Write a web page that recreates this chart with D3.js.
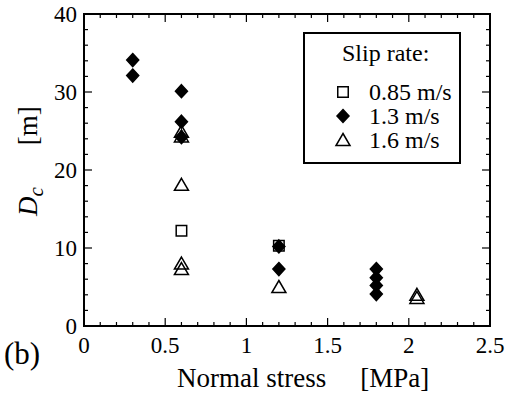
<!DOCTYPE html>
<html>
<head>
<meta charset="utf-8">
<script src="https://cdn.jsdelivr.net/npm/d3@7"></script>
<style>
  body { margin: 0; background: #fff; }
  text { font-family: "Liberation Serif", "Times New Roman", serif; fill: #000; }
</style>
</head>
<body>
<svg width="506" height="397"></svg>
<script>
// data: normal stress [MPa] vs Dc [m]
var rate085 = [[0.6, 12.2], [1.2, 10.3]];
var rate13 = [[0.3, 34.1], [0.3, 32.1], [0.6, 30.1], [0.6, 26.2], [0.6, 24.2],
              [1.2, 10.2], [1.2, 7.3], [1.8, 7.3], [1.8, 6.2], [1.8, 5.2], [1.8, 4.1]];
var rate16 = [[0.6, 24.9], [0.6, 24.3], [0.6, 18.1], [0.6, 8.0], [0.6, 7.3],
              [1.2, 5.0], [2.05, 4.0], [2.05, 3.6]];
var xTicks = [0, 0.5, 1, 1.5, 2, 2.5];
var yTicks = [0, 10, 20, 30, 40];
var legendLabels = ["0.85 m/s", "1.3 m/s", "1.6 m/s"];

var svg = d3.select("svg");
var pLeft = 84, pRight = 490, pTop = 14, pBottom = 326;

var x = d3.scaleLinear().domain([0, 2.5]).range([pLeft, pRight]);
var y = d3.scaleLinear().domain([0, 40]).range([pBottom, pTop]);

// ticks, inward on all four sides
var ticksG = svg.append("g").attr("stroke", "#000").attr("stroke-width", 1.2);
d3.range(0, 2.5001, 0.1).forEach(function(v) {
    var major = Math.abs(v / 0.5 - Math.round(v / 0.5)) < 1e-6;
    var len = major ? 8 : 4;
    ticksG.append("line").attr("x1", x(v)).attr("x2", x(v)).attr("y1", pBottom).attr("y2", pBottom - len);
    ticksG.append("line").attr("x1", x(v)).attr("x2", x(v)).attr("y1", pTop).attr("y2", pTop + len);
});
d3.range(0, 40.001, 2).forEach(function(v) {
    var major = v % 10 === 0;
    var len = major ? 8 : 4;
    ticksG.append("line").attr("x1", pLeft).attr("x2", pLeft + len).attr("y1", y(v)).attr("y2", y(v));
    ticksG.append("line").attr("x1", pRight).attr("x2", pRight - len).attr("y1", y(v)).attr("y2", y(v));
});

svg.append("rect")
    .attr("x", pLeft).attr("y", pTop)
    .attr("width", pRight - pLeft).attr("height", pBottom - pTop)
    .attr("fill", "none").attr("stroke", "#000").attr("stroke-width", 2);

svg.selectAll("text.xt").data(xTicks).enter().append("text")
    .attr("class", "xt")
    .attr("x", d => x(d)).attr("y", 353)
    .attr("text-anchor", "middle").attr("font-size", 23)
    .text(d => d);
svg.selectAll("text.yt").data(yTicks).enter().append("text")
    .attr("class", "yt")
    .attr("x", 77).attr("y", d => y(d) + 8)
    .attr("text-anchor", "end").attr("font-size", 23)
    .text(d => d);

// axis labels
var xl = svg.append("text").attr("x", 177).attr("y", 387).attr("font-size", 27);
xl.append("tspan").text("Normal stress");
xl.append("tspan").attr("dx", 34).text("[MPa]");

var yl = svg.append("text")
    .attr("transform", "translate(37,216) rotate(-90)")
    .attr("font-size", 27);
yl.append("tspan").attr("font-style", "italic").text("D");
yl.append("tspan").attr("font-style", "italic").attr("font-size", 21).attr("dy", 6).text("c");
yl.append("tspan").attr("dy", -6).attr("dx", 42).text("[m]");

svg.append("text").attr("x", 4).attr("y", 364).attr("font-size", 31).text("(b)");

// markers
var square = d3.symbol().type(d3.symbolSquare).size(110);
var diamond = "M0,-6.5L6,0L0,6.5L-6,0Z";
var triangle = "M0,-6.5L7,5.5L-7,5.5Z";

function plot(data, path, fill) {
    svg.append("g").selectAll("path").data(data).enter().append("path")
        .attr("d", path)
        .attr("transform", d => "translate(" + x(d[0]) + "," + y(d[1]) + ")")
        .attr("fill", fill).attr("stroke", "#000").attr("stroke-width", 1.5);
}
plot(rate085, square(), "none");
plot(rate13, diamond, "#000");
plot(rate16, triangle, "none");

// legend
var lg = svg.append("g");
lg.append("rect").attr("x", 304).attr("y", 33).attr("width", 156).attr("height", 130)
    .attr("fill", "#fff").attr("stroke", "#000").attr("stroke-width", 2);
lg.append("text").attr("x", 342).attr("y", 61).attr("font-size", 24).text("Slip rate:");
var legPaths = [[square(), "none"], [diamond, "#000"], [triangle, "none"]];
legendLabels.forEach(function(lab, i) {
    var cy = 92 + i * 24;
    lg.append("path").attr("d", legPaths[i][0])
        .attr("transform", "translate(343," + cy + ")")
        .attr("fill", legPaths[i][1]).attr("stroke", "#000").attr("stroke-width", 1.5);
    lg.append("text").attr("x", 369).attr("y", cy + 8).attr("font-size", 24).text(lab);
});
</script>
</body>
</html>
